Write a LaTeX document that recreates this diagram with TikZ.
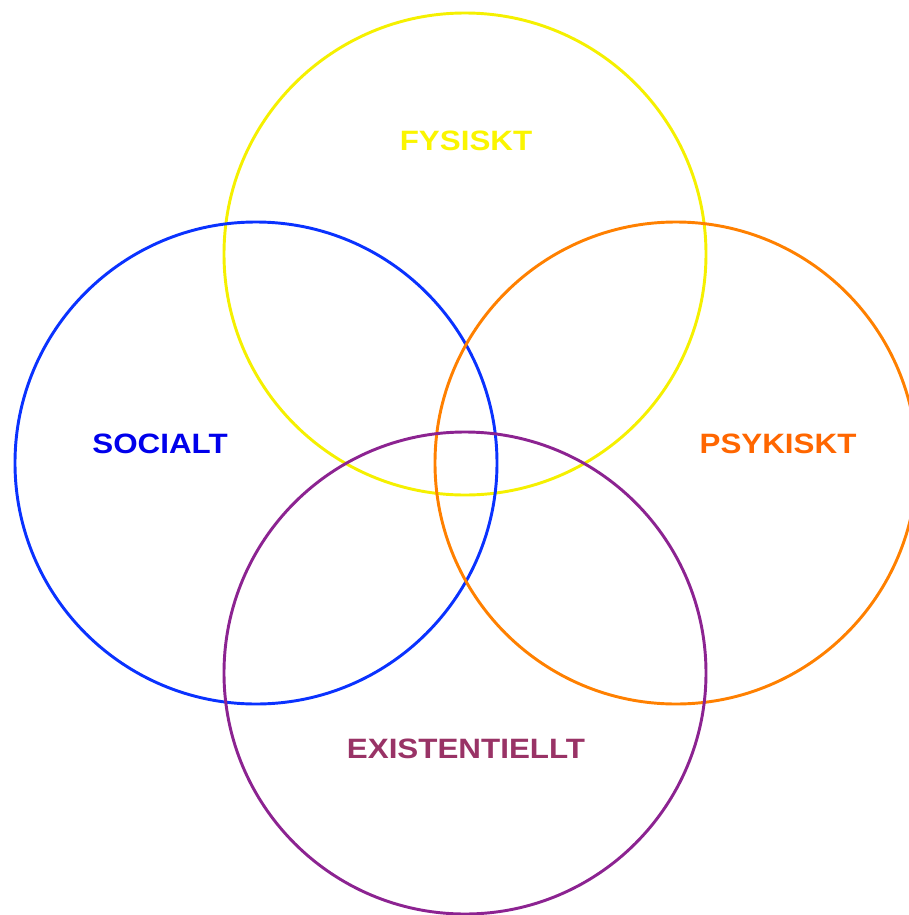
\documentclass[tikz,border=0pt]{standalone}
\usepackage{fontspec}
\setmainfont{Liberation Sans}
\newfontfamily\lblfont[FakeStretch=1.12]{Liberation Sans}
\usepackage{tikz}

\definecolor{fysring}{RGB}{245,240,0}
\definecolor{fystext}{RGB}{250,245,0}
\definecolor{socring}{RGB}{10,50,255}
\definecolor{soctext}{RGB}{0,0,235}
\definecolor{psyring}{RGB}{255,128,0}
\definecolor{psytext}{RGB}{255,102,0}
\definecolor{exiring}{RGB}{140,35,145}
\definecolor{exitext}{RGB}{153,51,102}

\begin{document}
\begin{tikzpicture}[x=0.75pt,y=-0.75pt,
  ring/.style={draw,circle,line width=2.2pt,minimum size=361.5pt,inner sep=0pt},
  lbl/.style={font=\lblfont\bfseries\fontsize{21}{24}\selectfont}]
  \useasboundingbox (0,0) rectangle (909,915);
  \clip (0,0) rectangle (909,915);
  \node[ring,fysring] (fys) at (465,254) {};
  \node[ring,socring] (soc) at (256,463) {};
  \node[ring,psyring] (psy) at (676,463) {};
  \node[ring,exiring] (exi) at (465,673) {};
  \node[lbl,fystext] (fyst) at (466,141) {FYSISKT};
  \node[lbl,soctext] (soct) at (160,444) {SOCIALT};
  \node[lbl,psytext] (psyt) at (778,444) {PSYKISKT};
  \node[lbl,exitext] (exit) at (466,749) {EXISTENTIELLT};
\end{tikzpicture}
\end{document}
